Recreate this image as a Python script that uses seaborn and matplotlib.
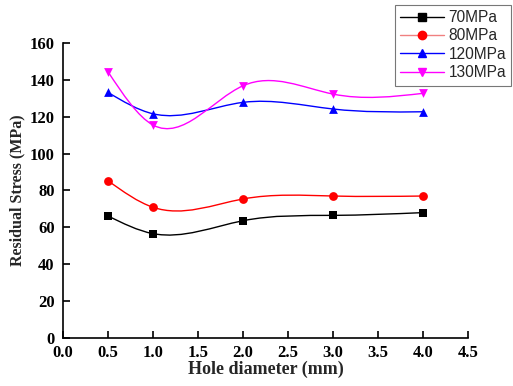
import matplotlib
matplotlib.use("Agg")
import matplotlib.pyplot as plt
from matplotlib.path import Path
from matplotlib.patches import PathPatch
from matplotlib.lines import Line2D
import seaborn as sns
import numpy as np
import pandas as pd

# values
diameter = [0.5, 1.0, 2.0, 3.0, 4.0]
s70 = [66.2, 56.6, 63.6, 66.5, 68.0]
s80 = [85.3, 70.9, 75.4, 77.0, 77.0]
s120 = [133.2, 121.6, 127.8, 124.2, 122.7]
s130 = [144.4, 115.5, 136.8, 132.3, 132.7]
labels = ["70MPa", "80MPa", "120MPa", "130MPa"]
colors = ["black", "red", "blue", "#FF00FF"]
markers = ["s", "o", "^", "v"]

df = pd.concat([pd.DataFrame({"d": diameter, "stress": s, "load": lab})
                for s, lab in zip([s70, s80, s120, s130], labels)])

sns.set_style("ticks")
plt.rcParams["font.family"] = ["Liberation Serif", "DejaVu Serif"]


def spline_path(x, y):
    # natural cubic spline drawn as bezier segments
    x = np.asarray(x, float); y = np.asarray(y, float)
    n = len(x); h = np.diff(x)
    A = np.zeros((n, n)); b = np.zeros(n)
    A[0, 0] = A[-1, -1] = 1
    for i in range(1, n - 1):
        A[i, i - 1] = h[i - 1]; A[i, i] = 2 * (h[i - 1] + h[i]); A[i, i + 1] = h[i]
        b[i] = 6 * ((y[i + 1] - y[i]) / h[i] - (y[i] - y[i - 1]) / h[i - 1])
    M = np.linalg.solve(A, b)
    m = np.zeros(n)
    for i in range(n - 1):
        m[i] = (y[i + 1] - y[i]) / h[i] - h[i] * (2 * M[i] + M[i + 1]) / 6
    m[-1] = (y[-1] - y[-2]) / h[-1] + h[-1] * (M[-2] + 2 * M[-1]) / 6
    verts = [(x[0], y[0])]; codes = [Path.MOVETO]
    for i in range(n - 1):
        verts += [(x[i] + h[i] / 3, y[i] + h[i] / 3 * m[i]),
                  (x[i + 1] - h[i] / 3, y[i + 1] - h[i] / 3 * m[i + 1]),
                  (x[i + 1], y[i + 1])]
        codes += [Path.CURVE4] * 3
    return Path(verts, codes)


fig = plt.figure(figsize=(5.13, 3.86), dpi=100)
ax = fig.add_axes([0.1228, 0.1244, 0.7895, 0.7642])

for lab, c, mk in zip(labels, colors, markers):
    sub = df[df["load"] == lab]
    ax.add_patch(PathPatch(spline_path(sub["d"], sub["stress"]), fill=False,
                           edgecolor=c, lw=1.0, zorder=2))
    sns.scatterplot(data=sub, x="d", y="stress", marker=mk, color=c, s=40,
                    edgecolor=c, linewidth=0, ax=ax, zorder=3)

ax.set_xlim(0, 4.5)
ax.set_ylim(0, 160)
ax.set_xticks(np.arange(0, 4.51, 0.5))
ax.set_yticks(np.arange(0, 161, 20))
ax.set_xticklabels([f"{v:.1f}" for v in np.arange(0, 4.51, 0.5)])
sns.despine(ax=ax)
for sp in ["left", "bottom"]:
    ax.spines[sp].set_linewidth(1.2)
    ax.spines[sp].set_color("black")
ax.tick_params(direction="in", length=5, width=1.2, labelsize=12, colors="black")
ax.tick_params(axis="x", pad=5)
ax.tick_params(axis="y", pad=6)
for t in ax.get_xticklabels() + ax.get_yticklabels():
    t.set_fontweight("bold")
ax.set_xlabel("Hole diameter (mm)", fontsize=13, fontweight="bold", labelpad=0)
ax.set_ylabel("Residual Stress (MPa)", fontsize=11.5, fontweight="bold", labelpad=3)

handles = [Line2D([], [], color=c, marker=mk, lw=1.0, markersize=6, label=lab)
           for lab, c, mk in zip(labels, colors, markers)]
handles[1].set_color("#F08080"); handles[1].set_markerfacecolor("red"); handles[1].set_markeredgecolor("red")
leg = fig.legend(handles=handles, loc="upper right", bbox_to_anchor=(0.997, 0.988),
                 borderaxespad=0, frameon=True, fancybox=False, edgecolor="#555555",
                 handlelength=2.8, prop={"family": "Liberation Sans", "size": 11.2},
                 borderpad=0.35, labelspacing=0.22, handletextpad=0.3)
leg.get_frame().set_linewidth(0.8)

fig.savefig("out.png", dpi=100)
